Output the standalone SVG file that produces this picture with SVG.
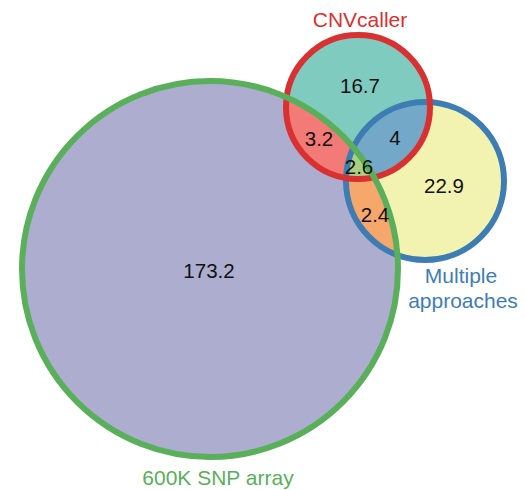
<svg xmlns="http://www.w3.org/2000/svg" width="525" height="490" viewBox="0 0 525 490">
  <style>
    .num { font-family: "Liberation Sans", Arial, sans-serif; font-size: 20.5px; fill: #111; text-anchor: middle; }
    .lab { font-family: "Liberation Sans", Arial, sans-serif; font-size: 21px; text-anchor: middle; }
    .ring { fill: none; stroke-width: 6; }
  </style>
  <defs>
    <clipPath id="cg"><circle cx="210" cy="269" r="188"/></clipPath>
    <clipPath id="cr"><circle cx="358" cy="107" r="72"/></clipPath>
    <clipPath id="cb"><circle cx="425" cy="181" r="79"/></clipPath>
  </defs>
  <rect width="525" height="490" fill="#ffffff"/>
  <g id="fills">
    <circle cx="210" cy="269" r="188" fill="#adaecf"/>
    <circle cx="358" cy="107" r="72" fill="#80cbc0"/>
    <circle cx="425" cy="181" r="79" fill="#f3f3b1"/>
    <circle cx="358" cy="107" r="72" fill="#f27a77" clip-path="url(#cg)"/>
    <circle cx="425" cy="181" r="79" fill="#f6a76b" clip-path="url(#cg)"/>
    <circle cx="358" cy="107" r="72" fill="#74a8c8" clip-path="url(#cb)"/>
    <g clip-path="url(#cg)">
      <circle cx="358" cy="107" r="72" fill="#a9d07f" clip-path="url(#cb)"/>
    </g>
  </g>
  <g id="multiple-approaches">
    <circle class="ring" cx="425" cy="181" r="79" stroke="#3e7db4"/>
    <text class="lab" x="461" y="283" fill="#3e7db4">Multiple</text>
    <text class="lab" x="463" y="308" fill="#3e7db4">approaches</text>
  </g>
  <g id="cnvcaller">
    <circle class="ring" cx="358" cy="107" r="72" stroke="#d93131"/>
    <text class="lab" x="360" y="27" fill="#d93131">CNVcaller</text>
  </g>
  <g id="snp-array">
    <circle class="ring" cx="210" cy="269" r="188" stroke="#5aaf5a"/>
    <text class="lab" x="218" y="485" fill="#5aaf5a">600K SNP array</text>
  </g>
  <g id="values">
    <text class="num" x="209" y="278">173.2</text>
    <text class="num" x="360" y="93">16.7</text>
    <text class="num" x="319" y="146">3.2</text>
    <text class="num" x="395" y="145">4</text>
    <text class="num" x="359" y="174">2.6</text>
    <text class="num" x="444" y="193">22.9</text>
    <text class="num" x="375" y="222">2.4</text>
  </g>
</svg>
